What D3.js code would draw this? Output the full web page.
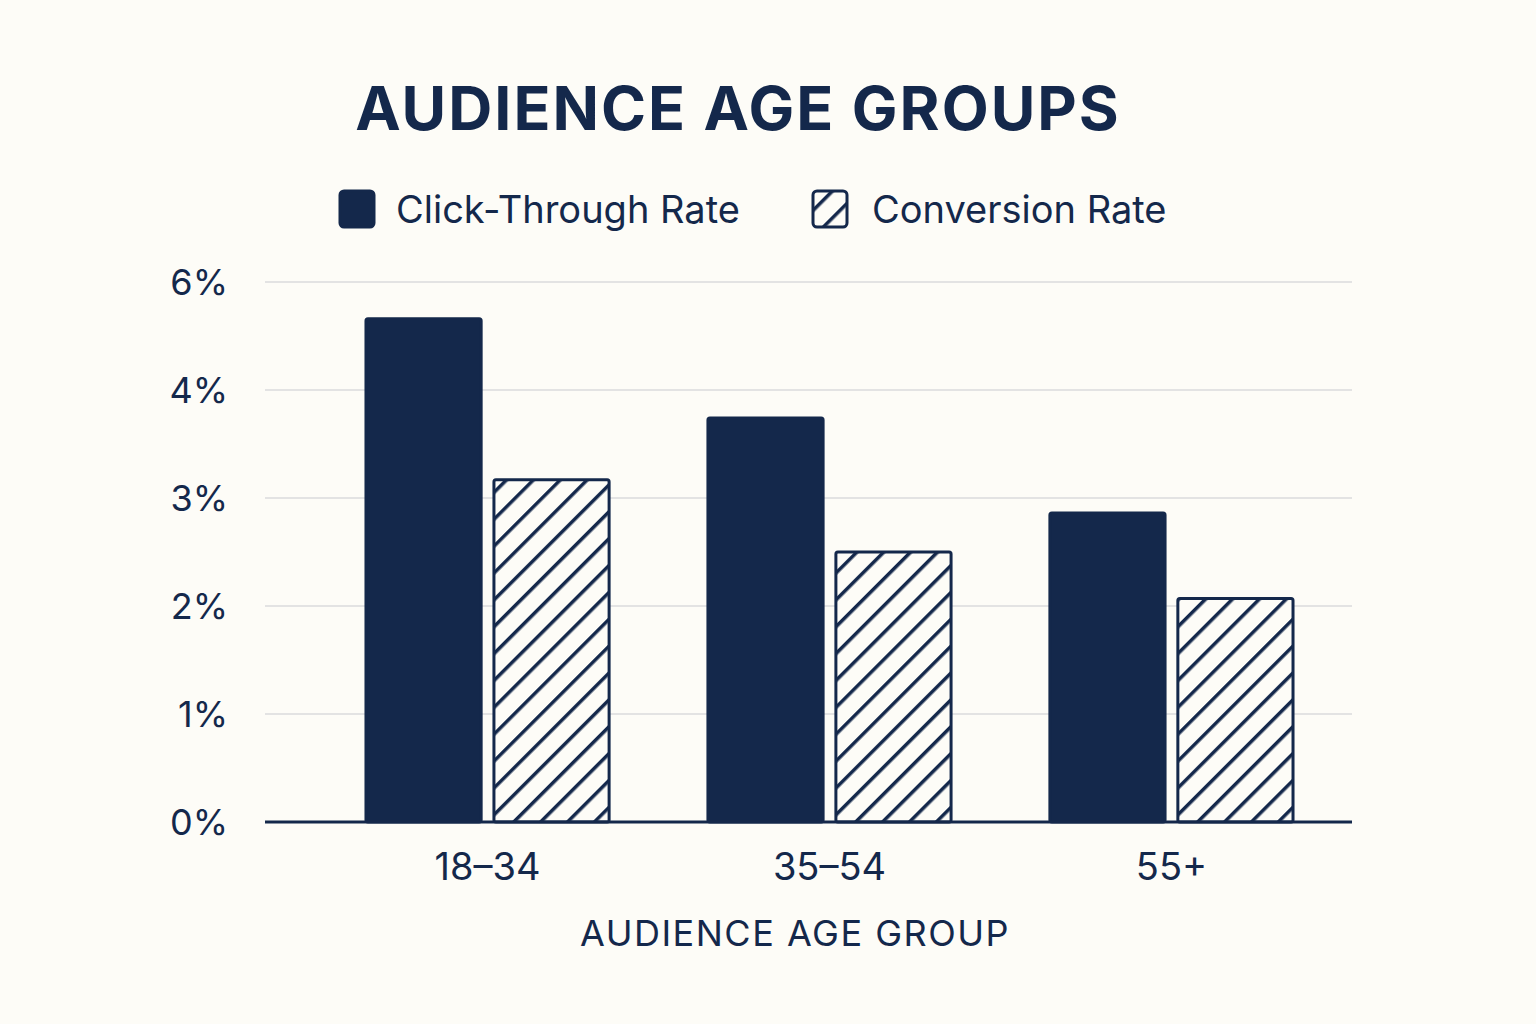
<!DOCTYPE html>
<html><head><meta charset="utf-8">
<script src="https://cdn.jsdelivr.net/npm/d3@7"></script>
<style>body{margin:0;background:#fdfcf7}svg{display:block}</style>
</head><body>
<svg id="c" width="1536" height="1024"></svg>
<script>
const categories = ["18-34","35-54","55+"];
const seriesNames = ["Click-Through Rate","Conversion Rate"];
// values in axis-position units (axis labels are unevenly spaced as in the original)
const ctr = [4.66, 3.74, 2.86];
const cvr = [3.17, 2.50, 2.07];
const tickPositions = [0,1,2,3,4,5];
const tickLabels = ["0%","1%","2%","3%","4%","6%"];

const navy = "#14284b";
const svg = d3.select("#c");
svg.append("rect").attr("width",1536).attr("height",1024).attr("fill","#fdfcf7");
const defs = svg.append("defs");
const pat = defs.append("pattern").attr("id","hatch").attr("patternUnits","userSpaceOnUse")
  .attr("width",19).attr("height",19).attr("patternTransform","rotate(45)");
pat.append("rect").attr("width",19).attr("height",19).attr("fill","#fdfcf7");
pat.append("line").attr("x1",0).attr("y1",0).attr("x2",0).attr("y2",19).attr("stroke",navy).attr("stroke-width",7);

const font = "Inter, 'Noto Sans', sans-serif";
const y = d3.scaleLinear().domain([0,5]).range([822,282]);
const x0 = d3.scaleBand().domain(categories).range([195,1464]).paddingInner(0.289).paddingOuter(0.5);
const x1 = d3.scaleBand().domain(seriesNames).range([0,x0.bandwidth()]).paddingInner(0.1);

svg.append("text").attr("x",738).attr("y",130).attr("text-anchor","middle")
  .attr("font-family",font).attr("font-weight",700).attr("font-size",61).attr("fill",navy)
  .attr("letter-spacing",2).text("AUDIENCE AGE GROUPS");

const g = svg.append("g");
g.selectAll("line.grid").data(tickPositions.slice(1)).join("line")
  .attr("x1",265).attr("x2",1352).attr("y1",d=>y(d)).attr("y2",d=>y(d))
  .attr("stroke","#e3e3e3").attr("stroke-width",2);
g.selectAll("text.tick").data(tickPositions).join("text")
  .attr("x",228).attr("y",d=>y(d)+13).attr("text-anchor","end")
  .attr("font-family",font).attr("font-size",36).attr("fill",navy)
  .text((d,i)=>tickLabels[i]);

const data = categories.map((c,i)=>({c, vals:[{s:seriesNames[0],v:ctr[i]},{s:seriesNames[1],v:cvr[i]}]}));
const grp = svg.selectAll("g.cat").data(data).join("g").attr("transform",d=>`translate(${x0(d.c)},0)`);
grp.selectAll("rect").data(d=>d.vals).join("rect")
  .attr("x",d=>x1(d.s)).attr("width",x1.bandwidth())
  .attr("y",d=>y(d.v)).attr("height",d=>y(0)-y(d.v))
  .attr("fill",(d,i)=>i===0?navy:"url(#hatch)")
  .attr("stroke",navy).attr("stroke-width",3).attr("rx",2);

svg.append("line").attr("x1",265).attr("x2",1352).attr("y1",y(0)).attr("y2",y(0)).attr("stroke",navy).attr("stroke-width",3);

svg.selectAll("text.cat").data(categories).join("text")
  .attr("x",d=>x0(d)+x0.bandwidth()/2).attr("y",880).attr("text-anchor","middle")
  .attr("font-family",font).attr("font-size",38).attr("fill",navy).text(d=>d.replace("-","–"));
svg.append("text").attr("x",795).attr("y",946).attr("text-anchor","middle")
  .attr("font-family",font).attr("font-size",36).attr("fill",navy).attr("letter-spacing",1.5).text("AUDIENCE AGE GROUP");

const leg = [{x:340,tx:396,fill:navy,t:seriesNames[0]},{x:813,tx:872,fill:"url(#hatch)",t:seriesNames[1]}];
leg.forEach(l=>{
  svg.append("rect").attr("x",l.x).attr("y",191).attr("width",34).attr("height",36).attr("rx",4)
    .attr("fill",l.fill).attr("stroke",navy).attr("stroke-width",3);
  svg.append("text").attr("x",l.tx).attr("y",223).attr("font-family",font).attr("font-size",38)
    .attr("fill",navy).text(l.t);
});
</script>
</body></html>
